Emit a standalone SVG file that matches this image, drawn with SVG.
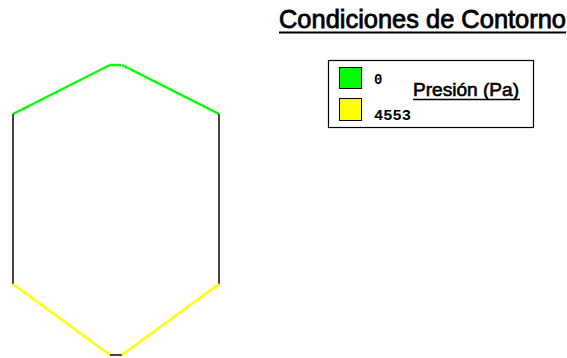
<svg xmlns="http://www.w3.org/2000/svg" width="567" height="358" viewBox="0 0 567 358">
<style>
.edge{fill:none;stroke-width:2.5;stroke-linecap:butt}
.green{stroke:#00ff00}
.yellow{stroke:#ffff00}
.dark{stroke:#444444;stroke-width:2}
.title{font-family:"Liberation Sans",Arial,sans-serif;font-size:25px;fill:#000;stroke:#000;stroke-width:0.8}
.lab{font-family:"Liberation Sans",Arial,sans-serif;font-size:18px;fill:#000;stroke:#000;stroke-width:0.6}
.num{font-family:"Liberation Mono","Courier New",monospace;font-size:14px;font-weight:bold;fill:#000}
</style>
<rect width="567" height="358" fill="#fff"/>
<g id="connectors">
<polyline class="edge green" points="13,114 110,65"/>
<line class="edge green" x1="110" y1="65" x2="121" y2="65"/>
<polyline class="edge green" points="122,65 219,114"/>
<line class="edge dark" x1="13" y1="114" x2="13" y2="284"/>
<line class="edge dark" x1="219" y1="114" x2="219" y2="284"/>
<polyline class="edge yellow" points="13,284 110,355"/>
<line class="edge dark" x1="110" y1="355" x2="122" y2="355"/>
<polyline class="edge yellow" points="122,355 219,284"/>
</g>
<g id="title">
<text class="title" x="279" y="28" textLength="287" lengthAdjust="spacingAndGlyphs">Condiciones de Contorno</text>
<line x1="279" y1="32.5" x2="566" y2="32.5" stroke="#000" stroke-width="2"/>
</g>
<g id="legend">
<rect x="328.5" y="60.5" width="205" height="67" fill="#fff" stroke="#000" stroke-width="1.2"/>
<rect x="339.5" y="67.5" width="22" height="21" fill="#00ff00" stroke="#000" stroke-width="1"/>
<rect x="339.5" y="98.5" width="22" height="22" fill="#ffff00" stroke="#000" stroke-width="1"/>
<text class="num" x="374" y="84">0</text>
<text class="num" x="374" y="120" textLength="37" lengthAdjust="spacingAndGlyphs">4553</text>
<text class="lab" x="413" y="96" textLength="106" lengthAdjust="spacingAndGlyphs">Presión (Pa)</text>
<line x1="413" y1="99.5" x2="520" y2="99.5" stroke="#000" stroke-width="1.5"/>
</g>
</svg>
